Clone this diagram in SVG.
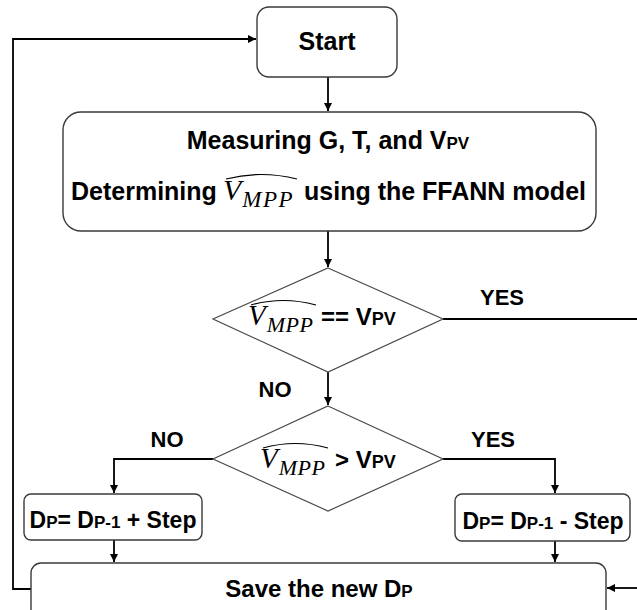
<svg xmlns="http://www.w3.org/2000/svg" width="637" height="610" viewBox="0 0 637 610">
<style>
.box{fill:#fff;stroke:#3a3a3a;stroke-width:1.4}
.dia{fill:#fff;stroke:#4a4a4a;stroke-width:1.2}
.t{font-family:"Liberation Sans",Arial,sans-serif;font-weight:bold;fill:#000}
.m{font-family:"Liberation Serif","Times New Roman",serif;font-style:italic;fill:#000}
.con{fill:none;stroke:#000;stroke-width:1.8}
.hat{fill:none;stroke:#000;stroke-width:1.2}
</style>
<defs>
<marker id="ah" viewBox="0 0 10 10" refX="10" refY="5" markerWidth="9" markerHeight="8" orient="auto" markerUnits="userSpaceOnUse"><path d="M0,0 L10,5 L0,10 z" fill="#000"/></marker>
</defs>
<rect width="637" height="610" fill="#fff"/>
<g id="connectors">
<path class="con" d="M328,77 V111" marker-end="url(#ah)"/>
<path class="con" d="M328,231 V267" marker-end="url(#ah)"/>
<path class="con" d="M328,372 V405" marker-end="url(#ah)"/>
<path class="con" d="M443,319 H637"/>
<path class="con" d="M213,459 H114 V493" marker-end="url(#ah)"/>
<path class="con" d="M443,459 H555 V493" marker-end="url(#ah)"/>
<path class="con" d="M114,540 V562" marker-end="url(#ah)"/>
<path class="con" d="M555,541 V562" marker-end="url(#ah)"/>
<path class="con" d="M31,589 H13 V39 H256" marker-end="url(#ah)"/>
<path class="con" d="M637,588 H607" marker-end="url(#ah)"/>
<text class="t" x="502" y="305" font-size="22" text-anchor="middle">YES</text>
<text class="t" x="275" y="397" font-size="22" text-anchor="middle">NO</text>
<text class="t" x="167" y="447" font-size="22" text-anchor="middle">NO</text>
<text class="t" x="493" y="447" font-size="22" text-anchor="middle">YES</text>
</g>
<g id="start">
<rect class="box" x="257" y="7" width="140" height="70" rx="12"/>
<text class="t" x="327" y="50" font-size="25" text-anchor="middle">Start</text>
</g>
<g id="measure">
<rect class="box" x="63" y="112" width="533" height="119" rx="18"/>
<text class="t" x="328" y="149" font-size="25" text-anchor="middle">Measuring G, T, and V<tspan font-size="17">PV</tspan></text>
<text class="t" x="71" y="200" font-size="25">Determining</text>
<text class="m" x="223" y="200" font-size="30">V<tspan font-size="23" dx="1" dy="7" letter-spacing="1.5">MPP</tspan></text>
<path class="hat" d="M226,179 Q261,170 297,179"/>
<text class="t" x="586" y="200" font-size="25" text-anchor="end">using the FFANN model</text>
</g>
<g id="decision1">
<polygon class="dia" points="328,268 443,319 328,372 213,319"/>
<text class="m" x="248" y="325" font-size="29">V<tspan font-size="22" dx="1" dy="7" letter-spacing="0.5">MPP</tspan></text>
<path class="hat" d="M251,305 Q283,296 316,305"/>
<text class="t" x="321" y="325" font-size="24">== V<tspan font-size="18">PV</tspan></text>
</g>
<g id="decision2">
<polygon class="dia" points="328,406 443,459 328,511 213,459"/>
<text class="m" x="260" y="468" font-size="29">V<tspan font-size="22" dx="1" dy="7" letter-spacing="0.5">MPP</tspan></text>
<path class="hat" d="M263,448 Q295,439 328,448"/>
<text class="t" x="335" y="468" font-size="24">&gt; V<tspan font-size="18">PV</tspan></text>
</g>
<g id="inc">
<rect class="box" x="24" y="494" width="178" height="46" rx="7"/>
<text class="t" x="113" y="528" font-size="23" text-anchor="middle">D<tspan font-size="17">P</tspan>= D<tspan font-size="17">P-1</tspan> + Step</text>
</g>
<g id="dec">
<rect class="box" x="455" y="494" width="175" height="47" rx="7"/>
<text class="t" x="543" y="529" font-size="23" text-anchor="middle">D<tspan font-size="17">P</tspan>= D<tspan font-size="17">P-1</tspan> - Step</text>
</g>
<g id="save">
<rect class="box" x="31" y="563" width="575" height="60" rx="10"/>
<text class="t" x="319" y="597" font-size="24" text-anchor="middle">Save the new D<tspan font-size="17">P</tspan></text>
</g>
</svg>
